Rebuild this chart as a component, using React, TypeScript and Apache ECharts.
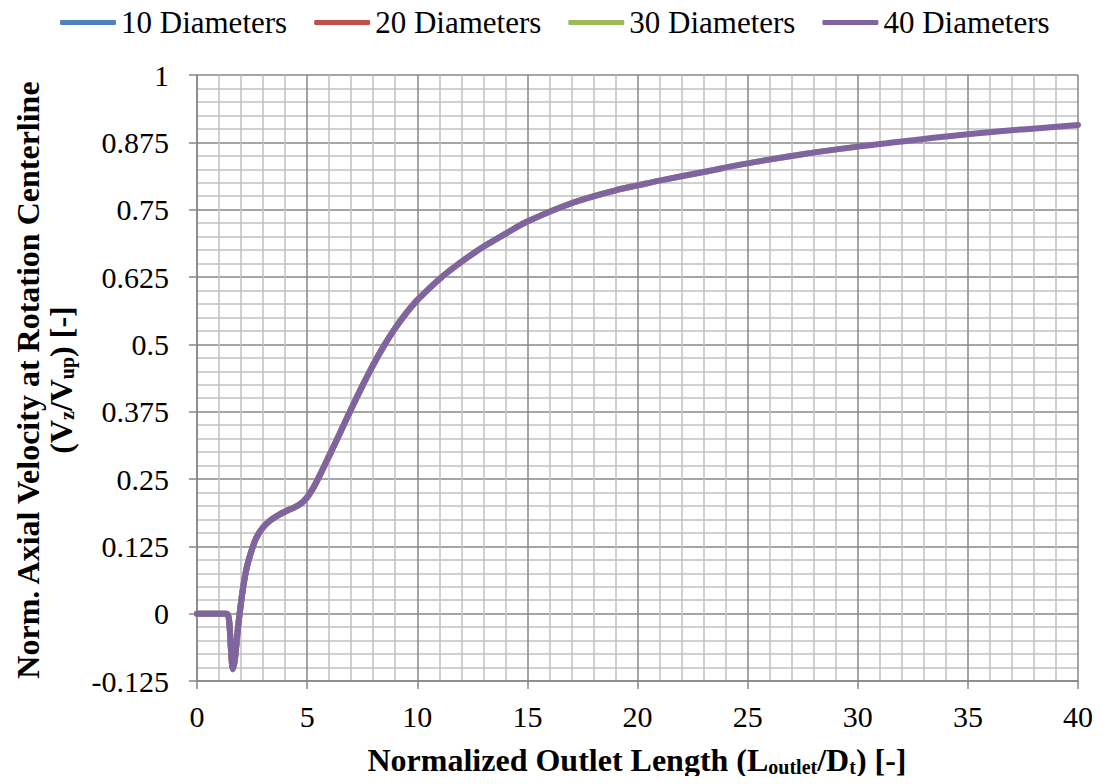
import React, { useEffect, useRef } from "react";
import * as echarts from "echarts";

// Normalized outlet length (L_outlet / D_t)
const xValues = [
  0, 0.5, 1.0, 1.35, 1.45, 1.55, 1.63, 1.72, 1.85, 1.95, 2.1, 2.26, 2.5, 2.71, 3.0, 3.32, 3.7, 4.08,
  4.4, 4.7, 5.0, 5.3, 5.6, 6.0, 6.5, 7.0, 7.5, 8.0, 8.5, 9.0, 9.5, 10, 11, 12, 13, 14, 15, 17, 19,
  20, 21, 23, 25, 27.5, 30, 32.5, 35, 37.5, 40,
];
// Norm. axial velocity at rotation centerline (Vz / Vup)
const velocity = [
  0, 0, 0, 0, -0.01, -0.07, -0.103, -0.085, -0.03, 0.005, 0.05, 0.086, 0.12, 0.142, 0.16, 0.173,
  0.183, 0.191, 0.197, 0.204, 0.216, 0.235, 0.259, 0.293, 0.336, 0.38, 0.422, 0.462, 0.498, 0.53,
  0.558, 0.582, 0.621, 0.653, 0.681, 0.705, 0.728, 0.762, 0.786, 0.795, 0.804, 0.82, 0.836, 0.853,
  0.867, 0.879, 0.89, 0.899, 0.907,
];

const seriesNames = ["10 Diameters", "20 Diameters", "30 Diameters", "40 Diameters"];
const seriesLengths = [10, 20, 30, 40];
const seriesColors = ["#4F81BD", "#C0504D", "#9BBB59", "#8064A2"];

const yTicks = { min: -0.125, max: 1, interval: 0.125 };
const xTicks = { min: 0, max: 40, interval: 5 };

const FONT = "Liberation Serif";

export default function App() {
  const ref = useRef<HTMLDivElement>(null);

  useEffect(() => {
    if (!ref.current) return;
    const chart = echarts.init(ref.current, undefined, { renderer: "svg" });

    const series = seriesNames.map((name, i) => ({
      name,
      type: "line",
      smooth: 0.35,
      showSymbol: false,
      symbol: "none",
      color: seriesColors[i],
      lineStyle: { width: 6, color: seriesColors[i], cap: "round", join: "round" },
      data: xValues
        .map((x, k) => [x, velocity[k]])
        .filter((p) => p[0] <= seriesLengths[i]),
      z: 2 + i,
    }));

    const majorGrid = { show: true, lineStyle: { color: "#878787", width: 1.5 } };
    const minorGrid = { show: true, lineStyle: { color: "#c0c0c0", width: 1.5 } };

    const sub = {
      fontFamily: FONT,
      fontWeight: "bold",
      fontSize: 20,
      lineHeight: 14,
      verticalAlign: "bottom",
    };

    chart.setOption({
      animation: false,
      backgroundColor: "#ffffff",
      textStyle: { fontFamily: FONT },
      legend: {
        top: 2,
        left: 55,
        itemWidth: 56,
        itemHeight: 5,
        itemGap: 27,
        icon: "roundRect",
        data: seriesNames,
        textStyle: { fontFamily: FONT, fontSize: 31, color: "#000" },
      },
      grid: { left: 197, right: 25, top: 75, bottom: 103, containLabel: false },
      xAxis: {
        type: "value",
        min: xTicks.min,
        max: xTicks.max,
        interval: xTicks.interval,
        axisLine: { show: true, onZero: false, lineStyle: { color: "#878787", width: 1.5 } },
        axisTick: { show: true, length: 8, lineStyle: { color: "#878787", width: 1.5 } },
        axisLabel: { margin: 20, fontSize: 30, color: "#000", fontFamily: FONT },
        splitLine: majorGrid,
        minorTick: { show: false, splitNumber: 5 },
        minorSplitLine: minorGrid,
      },
      yAxis: {
        type: "value",
        min: yTicks.min,
        max: yTicks.max,
        interval: yTicks.interval,
        axisLine: { show: true, lineStyle: { color: "#878787", width: 1.5 } },
        axisTick: { show: true, length: 8, lineStyle: { color: "#878787", width: 1.5 } },
        axisLabel: { margin: 28, fontSize: 30, color: "#000", fontFamily: FONT },
        splitLine: majorGrid,
        minorTick: { show: false, splitNumber: 5 },
        minorSplitLine: minorGrid,
      },
      graphic: [
        {
          type: "text",
          x: 44,
          y: 380,
          rotation: Math.PI / 2,
          style: {
            text:
              "{b|Norm. Axial Velocity at Rotation Centerline}\n{b|(V}{s|z}{b|/V}{s|up}{b|) [-]}",
            align: "center",
            verticalAlign: "middle",
            fill: "#000",
            rich: {
              b: { fontFamily: FONT, fontWeight: "bold", fontSize: 32, lineHeight: 33 },
              s: sub,
            },
          },
        },
        {
          type: "text",
          x: 637,
          y: 760,
          style: {
            text: "{b|Normalized Outlet Length (L}{s|outlet}{b|/D}{s|t}{b|) [-]}",
            align: "center",
            verticalAlign: "middle",
            fill: "#000",
            rich: {
              b: { fontFamily: FONT, fontWeight: "bold", fontSize: 32, lineHeight: 33 },
              s: sub,
            },
          },
        },
      ],
      series,
    });

    return () => chart.dispose();
  }, []);

  return <div ref={ref} style={{ width: 1103, height: 784, margin: -8 }} />;
}
